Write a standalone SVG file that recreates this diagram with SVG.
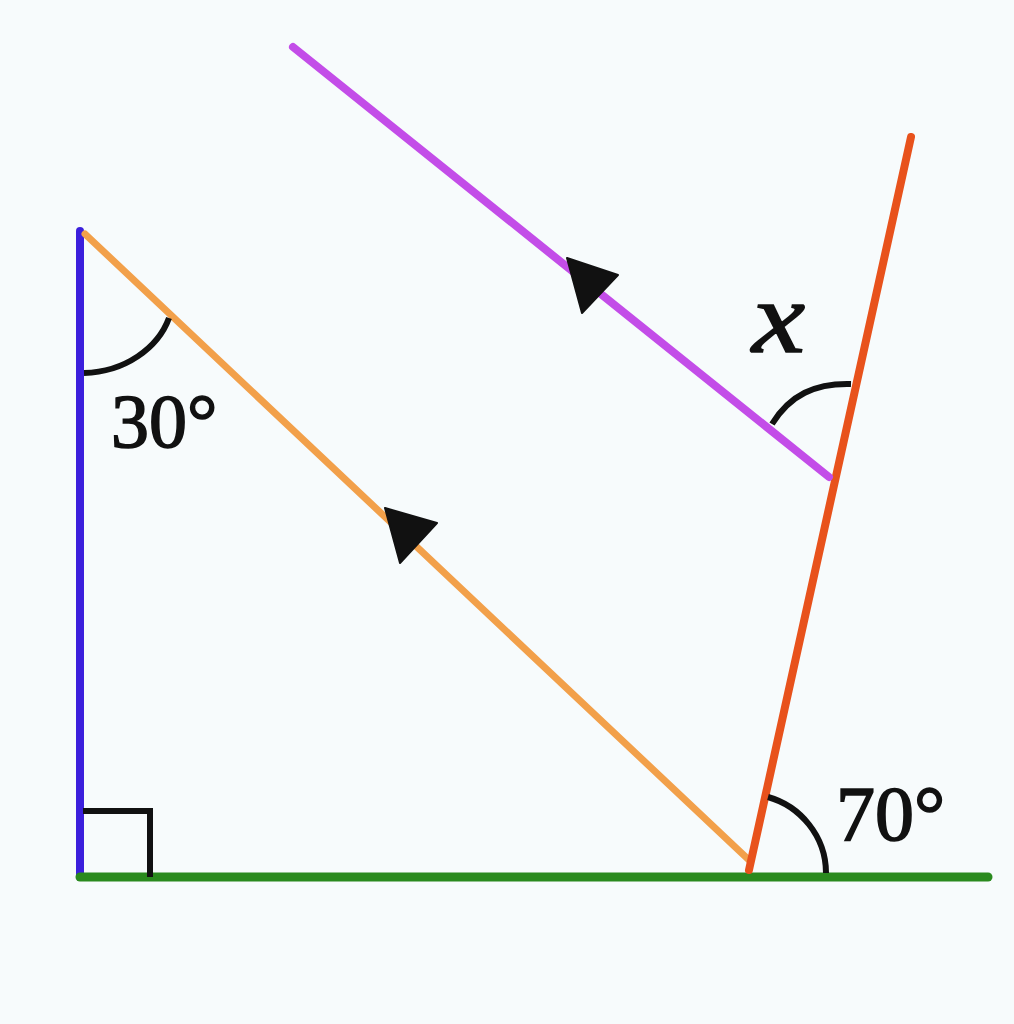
<svg xmlns="http://www.w3.org/2000/svg" width="1014" height="1024" viewBox="0 0 1014 1024">
<style>
.ln{fill:none;stroke-linecap:round}
.arc{fill:none;stroke:#111;stroke-width:6}
.lbl{font-family:"Liberation Serif","DejaVu Serif",serif;fill:#111;stroke:#111;stroke-width:1.6}
.tri{fill:#111;stroke:#111;stroke-width:2;stroke-linejoin:round}
</style>
<rect width="1014" height="1024" fill="#f7fbfc"/>
<g id="lines">
<line class="ln" x1="80" y1="231" x2="80" y2="877" stroke="#3b1fdc" stroke-width="8"/>
<line class="ln" x1="85" y1="234" x2="750" y2="861" stroke="#f2a04a" stroke-width="7"/>
<line class="ln" x1="80" y1="877" x2="988" y2="877" stroke="#2a8a1e" stroke-width="9"/>
<line class="ln" x1="749" y1="870" x2="911" y2="137" stroke="#e8521c" stroke-width="8"/>
<line class="ln" x1="293" y1="47" x2="829" y2="477" stroke="#c34de8" stroke-width="8"/>
</g>
<g id="marks">
<path class="arc" d="M83 811 H150 V877"/>
<path class="arc" d="M84 373 C125 372 158 348 169 318"/>
<path class="arc" d="M772 424 C790 395 815 383 851 384"/>
<path class="arc" d="M768 797 C800 806 826 836 826 873"/>
<polygon class="tri" points="567,258 618,275 582,313"/>
<polygon class="tri" points="385,508 437,523 400,563"/>
</g>
<g id="labels">
<text class="lbl" x="111" y="447" font-size="76">30°</text>
<text class="lbl" x="836" y="840" font-size="78">70°</text>
<text class="lbl" x="752" y="352" font-size="102" font-style="italic" textLength="53" lengthAdjust="spacingAndGlyphs">x</text>
</g>
</svg>
